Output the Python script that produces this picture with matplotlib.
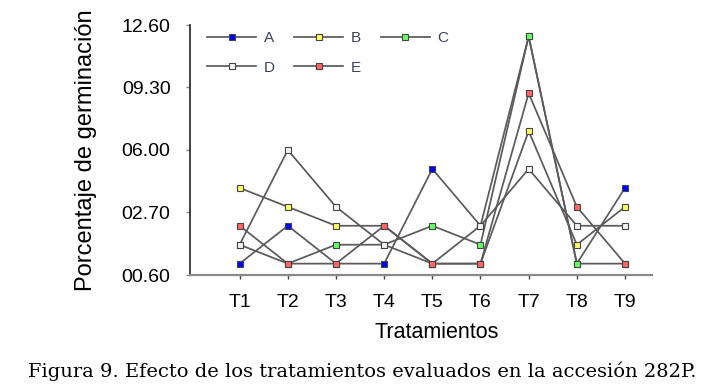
import matplotlib
matplotlib.use("Agg")
import matplotlib.pyplot as plt

# Porcentaje de germinacion por tratamiento (accesion 282P)
tratamientos = ["T1", "T2", "T3", "T4", "T5", "T6", "T7", "T8", "T9"]
serie_a = [0, 2, 0, 0, 5, 2, 12, 0, 4]
serie_b = [4, 3, 2, 2, 0, 0, 7, 1, 3]
serie_c = [1, 0, 1, 1, 2, 1, 12, 0, 0]
serie_d = [1, 6, 3, 1, 0, 2, 5, 2, 2]
serie_e = [2, 0, 0, 2, 0, 0, 9, 3, 0]
nombres = ["A", "B", "C", "D", "E"]
yticks = [-0.6, 2.7, 6.0, 9.3, 12.6]
ytick_labels = ["00.60", "02.70", "06.00", "09.30", "12.60"]

colores = ["#0000ff", "#ffff66", "#66ff66", "#f4f4f4", "#ff6666"]

plt.rcParams["font.family"] = ["Liberation Sans", "DejaVu Sans"]

fig = plt.figure(figsize=(7.24, 3.90), dpi=100)
ax = fig.add_axes([190 / 724, 1 - 275 / 390, 462 / 724, 250 / 390])

x = list(range(1, len(tratamientos) + 1))
handles = []
for serie, nombre, col in zip([serie_a, serie_b, serie_c, serie_d, serie_e], nombres, colores):
    h, = ax.plot(x, serie, color="#5a5a5a", lw=1.25, marker="s", ms=4.6,
                 mfc=col, mec="#444444", mew=0.8, label=nombre)
    handles.append(h)

ax.set_xlim(-0.03, 9.56)
ax.set_ylim(-0.6, 12.6)
ax.set_xticks(x)
ax.set_xticklabels(tratamientos, fontsize=14)
ax.set_yticks(yticks)
ax.set_yticklabels(ytick_labels, fontsize=14)
ax.tick_params(axis="y", length=3, width=1, color="#888888", pad=11)
ax.tick_params(axis="x", length=3, width=1, color="#444444", pad=11)

for s in ["top", "right"]:
    ax.spines[s].set_visible(False)
ax.spines["left"].set_color("#333333")
ax.spines["left"].set_linewidth(1.3)
ax.spines["bottom"].set_color("#8a8a8a")
ax.spines["bottom"].set_linewidth(1.6)

ax.set_ylabel("Porcentaje de germinación", fontsize=17)
ax.yaxis.set_label_coords(-0.201, 0.5)
ax.set_xlabel("Tratamientos", fontsize=15.5)
ax.xaxis.set_label_coords(0.535, -0.19)

# legend: row 1 A B C, row 2 D E (column-major order)
orden = [0, 3, 1, 4, 2]
leg = ax.legend([handles[i] for i in orden], [nombres[i] for i in orden],
                ncol=3, loc="upper left", bbox_to_anchor=(0.037, 0.975),
                frameon=False, fontsize=11, handlelength=3.2, handletextpad=0.5,
                columnspacing=1.3, labelspacing=1.0, borderpad=0, borderaxespad=0)
for t in leg.get_texts():
    t.set_color("#3a4255")

fig.text(0.5, 1 - 371 / 390, "Figura 9. Efecto de los tratamientos evaluados en la accesión 282P.",
         ha="center", va="center", fontsize=14, family=["DejaVu Serif"])

fig.savefig("out.png", dpi=100)
